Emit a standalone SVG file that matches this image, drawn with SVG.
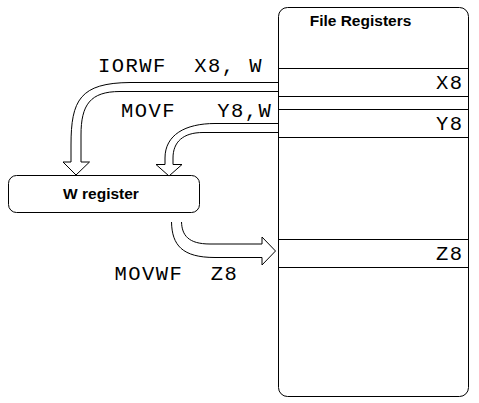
<svg xmlns="http://www.w3.org/2000/svg" width="479" height="403" viewBox="0 0 479 403">
  <style>
    .box { fill: #fff; stroke: #000; stroke-width: 1; }
    .row { stroke: #000; stroke-width: 1; fill: none; }
    .title { font-family: "Liberation Sans", Arial, sans-serif; font-weight: bold; font-size: 15.5px; fill: #000; }
    .code { font-family: "Liberation Mono", "Courier New", monospace; font-size: 20.5px; letter-spacing: 1.45px; fill: #000; }
    .arrow { fill: #fff; stroke: #000; stroke-width: 1; stroke-linejoin: miter; }
  </style>

  <rect width="479" height="403" fill="#fff"/>

  <!-- Register file with its address rows -->
  <g id="file-registers">
    <rect class="box" x="278.5" y="7.5" width="190" height="389" rx="9" ry="9"/>
    <text class="title" x="360.5" y="26" text-anchor="middle">File Registers</text>
    <path class="row" d="M278.5,68.5 H468.5 M278.5,96.5 H468.5 M278.5,109.5 H468.5 M278.5,137.5 H468.5 M278.5,239.5 H468.5 M278.5,267.5 H468.5"/>
    <text class="code" x="436" y="88.5">X8</text>
    <text class="code" x="436" y="130">Y8</text>
    <text class="code" x="436" y="260">Z8</text>
  </g>

  <!-- Working register -->
  <g id="w-register">
    <rect class="box" x="8.5" y="175.5" width="191" height="37" rx="8" ry="8"/>
    <text class="title" x="101" y="198.5" text-anchor="middle">W register</text>
  </g>

  <!-- Data-flow block arrows -->
  <g id="connectors">
    <path class="arrow" d="M278,82.5 H130 C80,83 71,100 71,145 V162 H63 L76,175 L89.5,162 H81 V135 C81,105 90,91.5 120,91.5 H278"/>
    <path class="arrow" d="M278,123.5 H215 C185,123.5 165,135 165,158 V164.5 H156 L169,176 L182,164.5 H173 V158 C173,142 183,132.5 203,132.5 H278"/>
    <path class="arrow" d="M171.5,222 C172,245 182,257.5 215,257.5 H262 V265 L275.5,251 L262,237 V244 H210 C188,244 182,235 181.5,222"/>
  </g>

  <!-- Instruction labels -->
  <g id="instructions">
    <text class="code" x="98" y="72" xml:space="preserve">IORWF  X8, W</text>
    <text class="code" x="121" y="117" xml:space="preserve">MOVF   Y8,W</text>
    <text class="code" x="114.5" y="280" xml:space="preserve">MOVWF  Z8</text>
  </g>
</svg>
